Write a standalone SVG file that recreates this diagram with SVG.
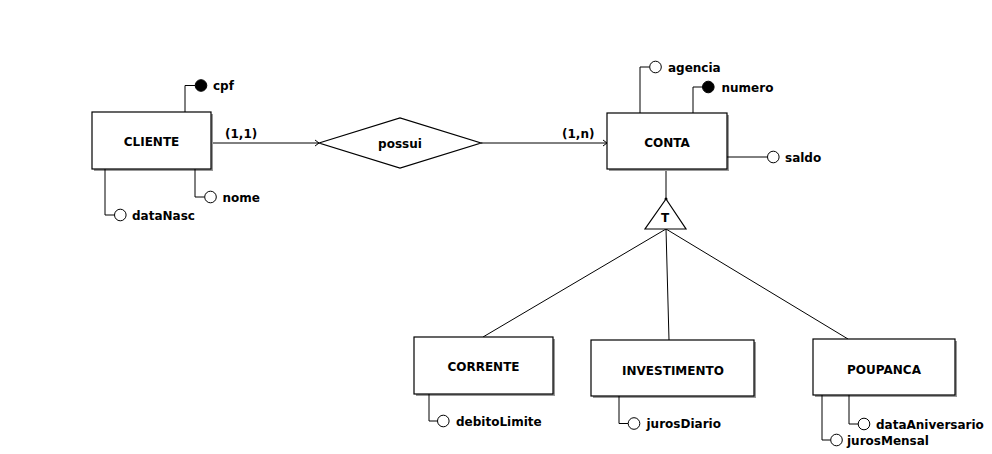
<svg xmlns="http://www.w3.org/2000/svg" width="992" height="454" viewBox="0 0 992 454">
<defs>
<style>
.ent{fill:#fff;stroke:#000;stroke-width:1.2}
.shd{fill:#999}
.t{font-family:"DejaVu Sans",sans-serif;font-weight:bold;font-size:12px;fill:#000}
.c{text-anchor:middle}
.ln{fill:none;stroke:#000;stroke-width:1}
.ao{fill:#fff;stroke:#000;stroke-width:1}
.ak{fill:#000;stroke:#000;stroke-width:1}
</style>
<marker id="arr" markerWidth="8" markerHeight="8" refX="6" refY="4" orient="auto" markerUnits="userSpaceOnUse">
<path d="M2,1 L6,4 L2,7" fill="none" stroke="#000" stroke-width="1"/>
</marker>
</defs>
<rect width="992" height="454" fill="#fff"/>

<g id="connectors">
<line class="ln" x1="211" y1="143" x2="319" y2="143" marker-end="url(#arr)"/>
<text class="t" x="225" y="137.5">(1,1)</text>
<line class="ln" x1="481" y1="143" x2="607" y2="143" marker-end="url(#arr)"/>
<text class="t" x="562" y="137.5">(1,n)</text>
<line class="ln" x1="666" y1="170" x2="666" y2="199"/>
<circle cx="666" cy="199" r="1.5" fill="#000"/>
<line class="ln" x1="666" y1="229" x2="483" y2="337"/>
<line class="ln" x1="666" y1="229" x2="669" y2="340"/>
<line class="ln" x1="666" y1="229" x2="848" y2="339"/>
</g>

<g id="cliente">
<rect class="shd" x="94" y="114" width="119" height="57"/>
<rect class="ent" x="92" y="112" width="119" height="57"/>
<text class="t c" x="151.5" y="146">CLIENTE</text>
</g>
<g id="attr-cpf">
<path class="ln" d="M185,112 V85.5 H195"/>
<circle class="ak" cx="201" cy="85.5" r="5.8"/>
<text class="t" x="213" y="90">cpf</text>
</g>
<g id="attr-nome">
<path class="ln" d="M195,169 V197 H204.5"/>
<circle class="ao" cx="210.5" cy="197" r="5.8"/>
<text class="t" x="222.5" y="201.5">nome</text>
</g>
<g id="attr-dataNasc">
<path class="ln" d="M105,169 V215 H114.5"/>
<circle class="ao" cx="120.3" cy="215" r="5.8"/>
<text class="t" x="132" y="219.5">dataNasc</text>
</g>

<g id="possui">
<polygon class="ent" points="319,143 400,118 481,143 400,168"/>
<text class="t c" x="400" y="148">possui</text>
</g>

<g id="conta">
<rect class="shd" x="609" y="115" width="120" height="56"/>
<rect class="ent" x="607" y="113" width="120" height="56"/>
<text class="t c" x="667" y="147">CONTA</text>
</g>
<g id="attr-agencia">
<path class="ln" d="M640,113 V67 H649.5"/>
<circle class="ao" cx="655.5" cy="67" r="5.8"/>
<text class="t" x="668" y="71.5">agencia</text>
</g>
<g id="attr-numero">
<path class="ln" d="M693,113 V87 H702.5"/>
<circle class="ak" cx="708.3" cy="87" r="5.8"/>
<text class="t" x="721.5" y="91.5">numero</text>
</g>
<g id="attr-saldo">
<path class="ln" d="M727,157 H767.5"/>
<circle class="ao" cx="773.3" cy="157" r="5.8"/>
<text class="t" x="785" y="161.5">saldo</text>
</g>

<g id="especializacao">
<polygon class="ent" points="666,199 686,229 645,229"/>
<text class="t c" x="665" y="222">T</text>
</g>

<g id="corrente">
<rect class="shd" x="416" y="339" width="139" height="57"/>
<rect class="ent" x="414" y="337" width="139" height="57"/>
<text class="t c" x="483.5" y="371">CORRENTE</text>
</g>
<g id="attr-debitoLimite">
<path class="ln" d="M429,394 V421 H437.5"/>
<circle class="ao" cx="443.3" cy="421" r="5.8"/>
<text class="t" x="456" y="425.5">debitoLimite</text>
</g>

<g id="investimento">
<rect class="shd" x="593" y="342" width="163" height="56"/>
<rect class="ent" x="591" y="340" width="163" height="56"/>
<text class="t c" x="673" y="374.5">INVESTIMENTO</text>
</g>
<g id="attr-jurosDiario">
<path class="ln" d="M619,396 V423.5 H628"/>
<circle class="ao" cx="634" cy="423.5" r="5.8"/>
<text class="t" x="646.5" y="428">jurosDiario</text>
</g>

<g id="poupanca">
<rect class="shd" x="815" y="341" width="142" height="56"/>
<rect class="ent" x="813" y="339" width="142" height="56"/>
<text class="t c" x="884" y="373.5">POUPANCA</text>
</g>
<g id="attr-dataAniversario">
<path class="ln" d="M849,395 V424 H858"/>
<circle class="ao" cx="864" cy="424" r="5.8"/>
<text class="t" x="876" y="428.5">dataAniversario</text>
</g>
<g id="attr-jurosMensal">
<path class="ln" d="M822,395 V440 H830.5"/>
<circle class="ao" cx="836.5" cy="440" r="5.8"/>
<text class="t" x="847" y="444.5">jurosMensal</text>
</g>
</svg>
